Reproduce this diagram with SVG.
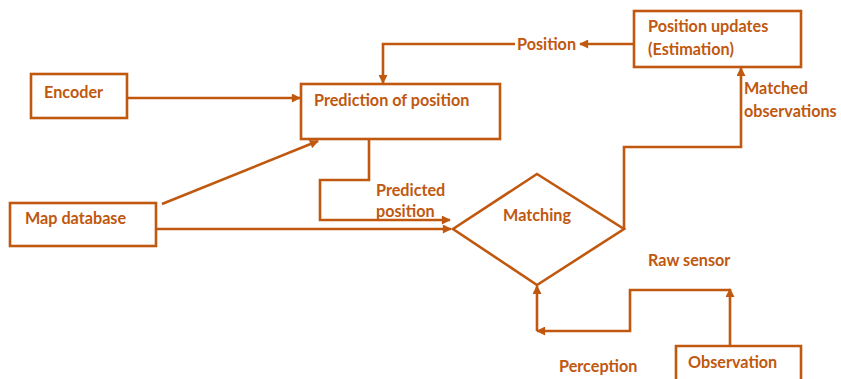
<svg xmlns="http://www.w3.org/2000/svg" width="841" height="379" viewBox="0 0 841 379">
  <defs>
    <style>
      .box { fill: #ffffff; stroke: #c0580f; stroke-width: 2.6; }
      .link { fill: none; stroke: #c0580f; stroke-width: 2.6; }
      .lbl { font-family: Lato, "Open Sans", "Liberation Sans", sans-serif; font-weight: bold; font-size: 16.2px; fill: #c0580f; }
    </style>
    <marker id="arrow" viewBox="0 0 10 10" refX="9" refY="5" markerWidth="10" markerHeight="9" markerUnits="userSpaceOnUse" orient="auto">
      <path d="M0,0 L10,5 L0,10 z" fill="#c0580f"/>
    </marker>
  </defs>
  <rect width="841" height="379" fill="#ffffff"/>

  <g id="connectors">
    <!-- Encoder to prediction -->
    <path class="link" d="M127,98 H300" marker-end="url(#arrow)"/>
    <!-- Map database to prediction -->
    <path class="link" d="M162,204 L318,141" marker-end="url(#arrow)"/>
    <!-- Map database to matching -->
    <path class="link" d="M156,229 H451" marker-end="url(#arrow)"/>
    <!-- Predicted position -->
    <path class="link" d="M369,140 V180 H320 V220 H450" marker-end="url(#arrow)"/>
    <!-- Matching to position updates -->
    <path class="link" d="M624,229 V147 H741 V68" marker-end="url(#arrow)"/>
    <!-- Position feedback -->
    <path class="link" d="M634,44 H580" marker-end="url(#arrow)"/>
    <path class="link" d="M515,44 H383 V83" marker-end="url(#arrow)"/>
    <!-- Observation to matching -->
    <path class="link" d="M730,346 V289" marker-end="url(#arrow)"/>
    <path class="link" d="M730,290 H630 V331 H537" marker-end="url(#arrow)"/>
    <path class="link" d="M537,331 V286" marker-end="url(#arrow)"/>
  </g>

  <g id="encoder">
    <rect class="box" x="31" y="74" width="96" height="44"/>
    <text class="lbl" x="44" y="98">Encoder</text>
  </g>

  <g id="prediction">
    <rect class="box" x="301" y="84" width="199" height="55"/>
    <text class="lbl" x="314" y="106">Prediction of position</text>
  </g>

  <g id="position-updates">
    <rect class="box" x="634" y="11" width="167" height="56"/>
    <text class="lbl" x="648" y="32">Position updates</text>
    <text class="lbl" x="648" y="55">(Estimation)</text>
  </g>

  <g id="map-database">
    <rect class="box" x="10" y="203" width="146" height="43"/>
    <text class="lbl" x="25" y="224">Map database</text>
  </g>

  <g id="matching">
    <path class="box" d="M537,174 L624,229 L537,285 L453,229 Z"/>
    <text class="lbl" x="537" y="221" text-anchor="middle">Matching</text>
  </g>

  <g id="observation">
    <path class="box" d="M676,381 V346 H801 V381"/>
    <text class="lbl" x="688" y="368">Observation</text>
  </g>

  <g id="labels">
    <text class="lbl" x="517" y="50">Position</text>
    <text class="lbl" x="744" y="94">Matched</text>
    <text class="lbl" x="744" y="117">observations</text>
    <text class="lbl" x="376" y="196">Predicted</text>
    <text class="lbl" x="376" y="217">position</text>
    <text class="lbl" x="648" y="266">Raw sensor</text>
    <text class="lbl" x="559" y="372">Perception</text>
  </g>
</svg>
